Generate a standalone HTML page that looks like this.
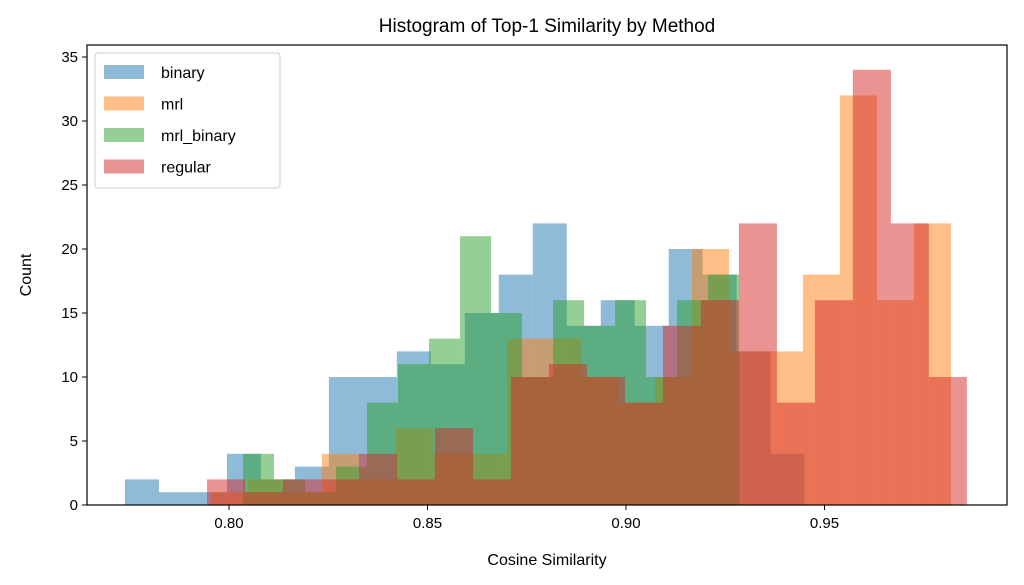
<!DOCTYPE html>
<html><head><meta charset="utf-8"><style>
body{margin:0;background:#fff;}
svg{display:block;font-family:"Liberation Sans","DejaVu Sans",sans-serif;}
</style></head><body>
<svg id="chart" width="1024" height="585">
<text x="547" y="32" font-size="19" text-anchor="middle">Histogram of Top-1 Similarity by Method</text>
<g id="bars"></g>
<rect x="87" y="45" width="920" height="460" fill="none" stroke="#000" stroke-width="1.2"/>
<g id="xticks"></g>
<g id="yticks"></g>
<text x="547" y="565" font-size="16" text-anchor="middle">Cosine Similarity</text>
<text x="0" y="0" font-size="16" text-anchor="middle" transform="translate(31,275) rotate(-90)">Count</text>
<g id="legend"></g>
</svg>
<script>
const seriesNames=["binary","mrl","mrl_binary","regular"];
const seriesColors=["#1f77b4","#ff7f0e","#2ca02c","#d62728"];
const binStarts=[0.7738,0.79547,0.80353,0.79446];
const binWidths=[0.00856,0.00932,0.00781,0.00957];
const binaryCounts=[2,1,1,4,2,3,10,10,12,11,15,18,22,14,16,14,20,18,12,4];
const mrlCounts=[1,2,1,4,2,6,4,4,13,13,10,8,10,20,12,12,18,32,16,22];
const mrlBinaryCounts=[4,2,1,3,8,11,13,21,15,10,16,14,16,10,16,18];
const regularCounts=[2,1,2,2,4,2,6,2,10,11,10,8,14,16,22,8,16,34,22,10];
const xTicks=[0.80,0.85,0.90,0.95];
const yTicks=[0,5,10,15,20,25,30,35];
const allCounts=[binaryCounts,mrlCounts,mrlBinaryCounts,regularCounts];
const X=v=>229+(v-0.80)*3970;
const Y=c=>505-c*12.8;
const NS="http://www.w3.org/2000/svg";
const bars=document.getElementById('bars');
allCounts.forEach((counts,s)=>{
  counts.forEach((c,i)=>{
    if(c<=0)return;
    const x0=X(binStarts[s]+i*binWidths[s]),x1=X(binStarts[s]+(i+1)*binWidths[s]);
    const r=document.createElementNS(NS,'rect');
    r.setAttribute('x',x0);r.setAttribute('width',x1-x0);
    r.setAttribute('y',Y(c));r.setAttribute('height',Y(0)-Y(c));
    r.setAttribute('fill',seriesColors[s]);r.setAttribute('fill-opacity',0.5);
    
    
    bars.appendChild(r);
  });
});
const xt=document.getElementById('xticks');
xTicks.forEach(v=>{
  const g=document.createElementNS(NS,'g');
  
  
  g.innerHTML=`<line x1="${X(v)}" x2="${X(v)}" y1="505" y2="510" stroke="#000"/><text x="${X(v)}" y="528" font-size="15" text-anchor="middle">${v.toFixed(2)}</text>`;
  xt.appendChild(g);
});
const yt=document.getElementById('yticks');
yTicks.forEach(v=>{
  const g=document.createElementNS(NS,'g');
  
  
  g.innerHTML=`<line x1="82" x2="87" y1="${Y(v)}" y2="${Y(v)}" stroke="#000"/><text x="78" y="${Y(v)+5}" font-size="15" text-anchor="end">${v}</text>`;
  yt.appendChild(g);
});
const lg=document.getElementById('legend');
lg.innerHTML='<rect x="95" y="53" width="185" height="135" rx="3" fill="#fff" fill-opacity="0.8" stroke="#ccc"/>';
seriesNames.forEach((n,i)=>{
  const g=document.createElementNS(NS,'g');
  
  
  const y=65+i*31.5;
  g.innerHTML=`<rect x="104" y="${y}" width="40" height="14" fill="${seriesColors[i]}" fill-opacity="0.5"/><text x="161" y="${y+13}" font-size="16">${n}</text>`;
  lg.appendChild(g);
});
</script>
</body></html>
